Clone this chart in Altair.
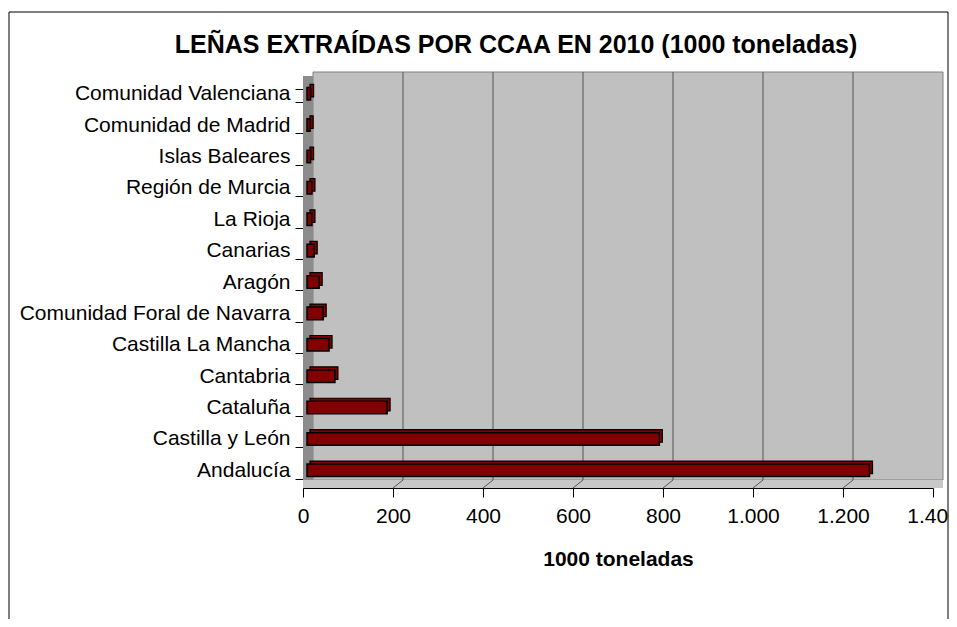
import altair as alt
import pandas as pd

categories = ["Comunidad Valenciana", "Comunidad de Madrid", "Islas Baleares",
              "Región de Murcia", "La Rioja", "Canarias", "Aragón",
              "Comunidad Foral de Navarra", "Castilla La Mancha", "Cantabria",
              "Cataluña", "Castilla y León", "Andalucía"]
values = [8, 7, 8, 11, 11, 16, 27, 36, 49, 62, 178, 783, 1250]
tick_values = [0, 200, 400, 600, 800, 1000, 1200, 1400]
grid_values = [200, 400, 600, 800, 1000, 1200]

title_text = "LEÑAS EXTRAÍDAS POR CCAA EN 2010 (1000 toneladas)"
x_title = "1000 toneladas"

FONT = "Liberation Sans"
W, H = 630, 408
DX, DY = 10, -8

df = pd.DataFrame({"ccaa": categories, "valor": values})
grid_df = pd.DataFrame({"v": grid_values})
one = pd.DataFrame({"k": [0]})

xscale = alt.Scale(domain=[0, 1400], nice=False, zero=True)
yscale = alt.Scale(domain=categories, paddingInner=0.6, paddingOuter=0.3)

x_axis = alt.Axis(values=tick_values, grid=False, domainColor="black", tickColor="black",
                  tickSize=9, labelPadding=8, labelFont=FONT, labelFontSize=21,
                  labelColor="black",
                  labelExpr="replace(format(datum.value, ','), ',', '.')",
                  title=x_title, titleFont=FONT, titleFontSize=21, titleFontWeight="bold",
                  titleColor="black", titlePadding=22, labelFlush=False)
y_axis = alt.Axis(title=None, domainColor="black", tickColor="black", tickSize=8,
                  tickBand="extent", labelPadding=5, labelFont=FONT, labelFontSize=21,
                  labelColor="black", labelOffset=-2, labelLimit=400)

deco = alt.Chart(one)

# decorative walls
back_wall = deco.mark_rect(fill="#C0C0C0", stroke="#808080", strokeWidth=1,
                           xOffset=DX, x2Offset=DX).encode(
    x=alt.datum(0, scale=xscale), x2=alt.datum(1400),
    y=alt.value(DY), y2=alt.value(H + DY))
side_wall = deco.mark_rect(fill="#8C8C8C").encode(
    x=alt.value(0), x2=alt.value(DX), y=alt.value(-4), y2=alt.value(H - 4))
floor = deco.mark_rect(fill="#C8C8C8").encode(
    x=alt.value(0), x2=alt.value(W + DX), y=alt.value(H + DY), y2=alt.value(H))

grid = alt.Chart(grid_df).mark_rule(color="#555555", strokeWidth=1,
                                     xOffset=DX).encode(
    x=alt.X("v:Q", scale=xscale), y=alt.value(DY), y2=alt.value(H + DY))
floor_diag = alt.Chart(grid_df).mark_rule(color="#555555", strokeWidth=1,
                                           x2Offset=DX).encode(
    x=alt.X("v:Q", scale=xscale), x2="v:Q", y=alt.value(H), y2=alt.value(H + DY))

base = alt.Chart(df)
bar_back = base.mark_bar(color="#800000", stroke="black", strokeWidth=1.2,
                         xOffset=7, x2Offset=7, yOffset=-5, y2Offset=-5).encode(
    x=alt.X("valor:Q", scale=xscale, axis=x_axis),
    y=alt.Y("ccaa:N", scale=yscale, sort=categories, axis=y_axis))
bar_front = base.mark_bar(color="#800000", stroke="black", strokeWidth=1.5,
                          xOffset=4, x2Offset=4, yOffset=-2, y2Offset=-2).encode(
    x=alt.X("valor:Q", scale=xscale),
    y=alt.Y("ccaa:N", scale=yscale, sort=categories))

title = deco.mark_text(text=title_text, font=FONT, fontSize=25, fontWeight="bold",
                       color="black", align="center", baseline="alphabetic").encode(
    x=alt.value(213), y=alt.value(-27))
border = deco.mark_rect(fill=None, stroke="black", strokeWidth=1).encode(
    x=alt.value(-294), x2=alt.value(645), y=alt.value(-68), y2=alt.value(560))

chart = alt.layer(
    border, back_wall, side_wall, floor, grid, floor_diag, bar_back, bar_front, title
).properties(
    width=W, height=H,
    autosize=alt.AutoSizeParams(type="none"),
    padding={"left": 295, "top": 72, "right": 16, "bottom": 131},
    background="white",
).configure_view(stroke=None)

chart.save("out.html", embed_options={"renderer": "svg", "actions": False})
